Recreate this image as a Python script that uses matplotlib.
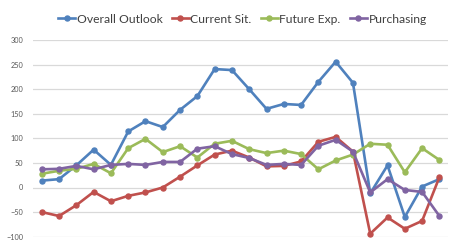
import matplotlib
matplotlib.use('Agg')
from matplotlib import pyplot
import numpy

# Values (24 periods, no x labels)
overall = [14, 17, 45, 77, 46, 114, 135, 123, 158, 186, 241, 239,
           200, 160, 170, 168, 215, 256, 213, -12, 45, -60, 2, 17]
current = [-50, -58, -36, -9, -28, -17, -10, 0, 22, 45, 67, 75,
           61, 43, 44, 53, 93, 103, 73, -94, -61, -84, -68, 21]
future = [28, 34, 38, 48, 29, 80, 99, 72, 84, 61, 89, 95,
          78, 70, 75, 68, 37, 55, 67, 89, 87, 31, 80, 56]
purchasing = [37, 38, 44, 37, 46, 48, 46, 52, 52, 79, 84, 68,
              60, 46, 48, 46, 85, 97, 73, -10, 17, -5, -9, -58]

series = [('Overall Outlook', overall, '#4F81BD'),
          ('Current Sit.', current, '#C0504D'),
          ('Future Exp.', future, '#9BBB59'),
          ('Purchasing', purchasing, '#8064A2')]

pyplot.rc('font', family=['Lato', 'DejaVu Sans'])
fig = pyplot.figure(figsize=(4.6, 2.4), dpi=100)
ax = fig.add_axes([0.072, 0.014, 0.902, 0.819])

x = numpy.arange(len(overall))
for name, vals, color in series:
    ax.plot(x, vals, color=color, lw=1.9, marker='o', ms=3.6,
            label=name, solid_joinstyle='round')

ax.set_xlim(-0.5, len(overall) - 0.5)
ax.set_ylim(-100, 300)
ax.set_yticks(numpy.arange(-100, 301, 50))
ax.set_xticks([])
ax.grid(axis='y', color='#D9D9D9', lw=0.9)
ax.set_axisbelow(True)
for side in ['top', 'right', 'bottom', 'left']:
    ax.spines[side].set_visible(False)
ax.tick_params(axis='y', length=0, labelsize=5.3, labelcolor='#595959', pad=7)

fig.legend(loc='center', bbox_to_anchor=(0.527, 0.92), ncol=4, frameon=False,
           fontsize=8.7, handlelength=1.4, handletextpad=0.15,
           columnspacing=0.75, labelcolor='#404040')

fig.savefig('out.png', dpi=100)
